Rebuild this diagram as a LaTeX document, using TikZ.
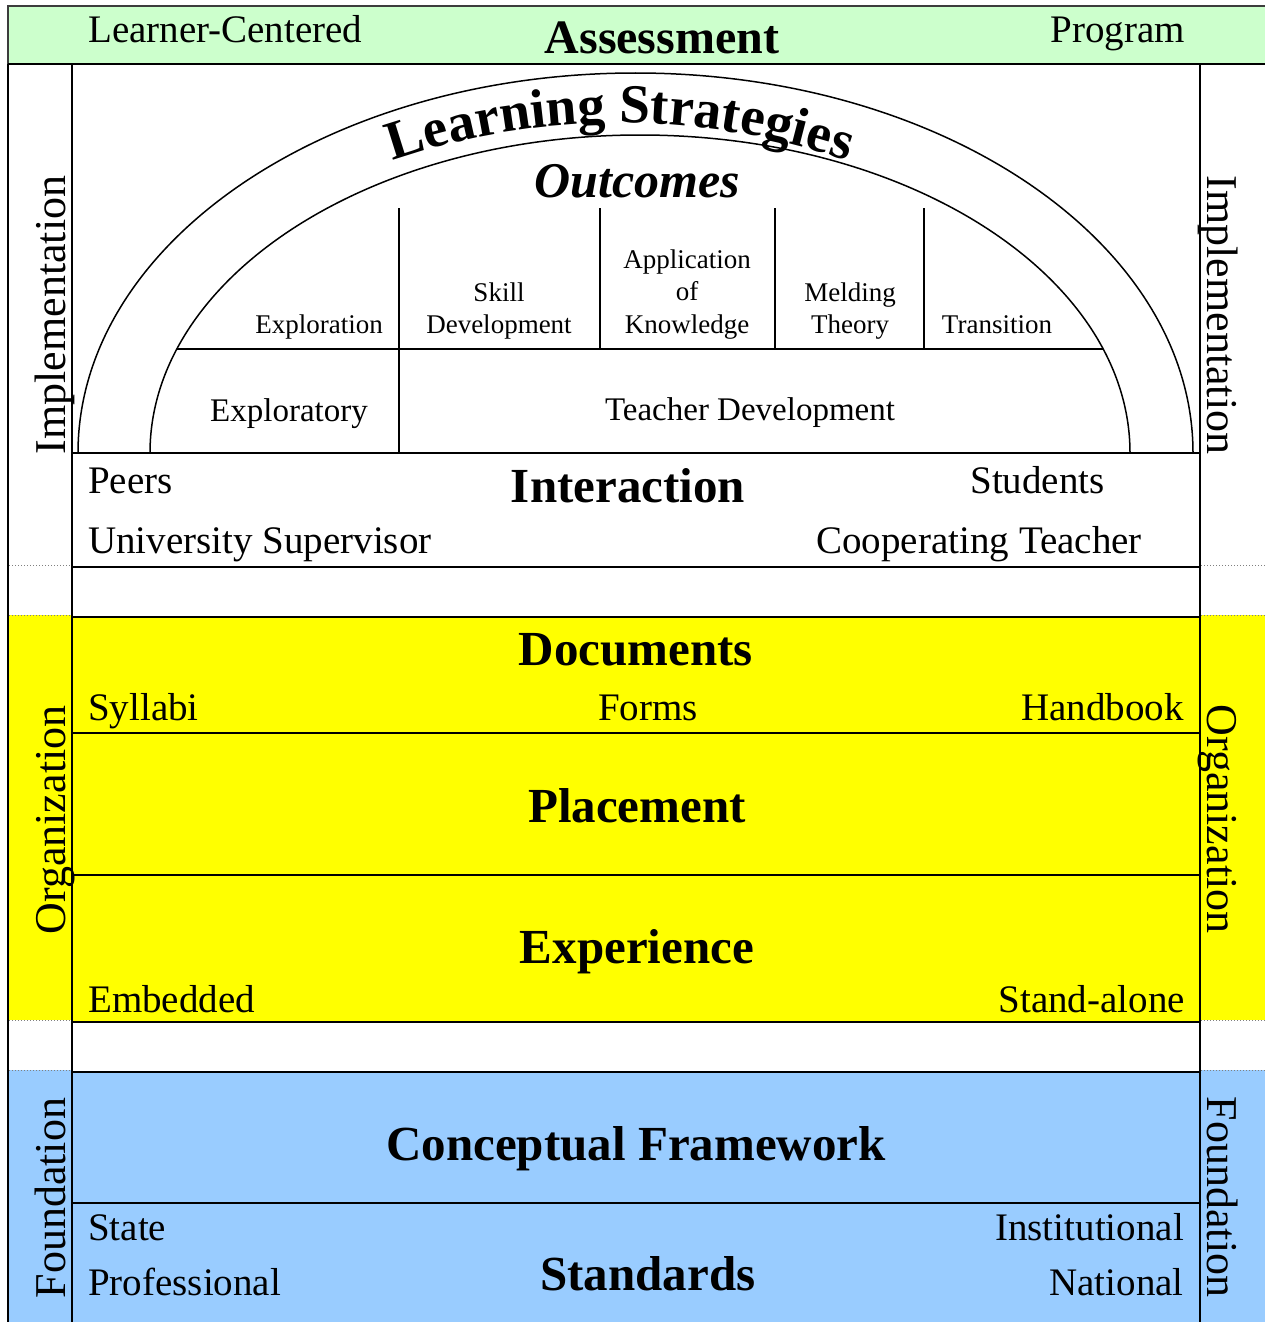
\documentclass[tikz,border=0pt]{standalone}
\usepackage{fontspec}
\setmainfont{Liberation Serif}
\usetikzlibrary{decorations.text}
\newcommand\fsz[1]{\fontsize{#1}{#1}\selectfont}
\newcommand\LSfont{\fontsize{55}{55}\selectfont\bfseries}
\definecolor{greenbg}{RGB}{204,255,204}
\definecolor{yellowbg}{RGB}{255,255,0}
\definecolor{bluebg}{RGB}{153,204,255}
\definecolor{bandline}{RGB}{60,60,60}
\begin{document}
\begin{tikzpicture}[x=1pt,y=1pt,
  lbl/.style={inner sep=0pt, font=\fsz{39}},
  head/.style={inner sep=0pt, font=\fsz{49}\bfseries},
  small/.style={inner sep=0pt, font=\fsz{27}},
  mid/.style={inner sep=0pt, font=\fsz{33}},
  side/.style={inner sep=0pt, font=\fsz{44}},
  frame/.style={line width=2.5pt, black},
  hline/.style={line width=2.8pt, black},
  thinl/.style={line width=1.5pt, black},
  medl/.style={line width=2.3pt, black},
  dotl/.style={gray, dotted, line width=1pt},
]
\useasboundingbox (0,0) rectangle (1265,-1322);
\fill[white] (0,0) rectangle (1265,-1322);
% fills
\fill[greenbg] (8,-6) rectangle (1270,-64);
\fill[yellowbg] (8,-615) rectangle (72,-1020);
\fill[yellowbg] (1200,-615) rectangle (1270,-1020);
\fill[yellowbg] (72,-617) rectangle (1200,-1022);
\fill[bluebg] (8,-1070) rectangle (72,-1325);
\fill[bluebg] (1200,-1070) rectangle (1270,-1325);
\fill[bluebg] (72,-1072) rectangle (1200,-1325);
% top band border
\draw[line width=2pt, bandline] (1270,-6) -- (8,-6) -- (8,-64);
\draw[frame] (8,-64) -- (1270,-64);
% frame verticals
\draw[frame] (8,-64) -- (8,-1325);
\draw[frame] (72,-64) -- (72,-1325);
\draw[frame] (1200,-64) -- (1200,-1325);
% centre horizontals
\draw[hline] (72,-453) -- (1200,-453);
\draw[hline] (72,-567) -- (1200,-567);
\foreach \yy in {617,733,875,1022,1072,1203}
  \draw[frame] (72,-\yy) -- (1200,-\yy);
% side dotted separators
\foreach \yy in {565,615,1020,1070} {
  \draw[dotl] (9,-\yy) -- (71,-\yy);
  \draw[dotl] (1201,-\yy) -- (1265,-\yy);
}
% arch
\draw[thinl] (78,-453) arc[start angle=180, end angle=0, x radius=557.5, y radius=380];
\draw[thinl] (150,-453) arc[start angle=180, end angle=0, x radius=490, y radius=318];
\coordinate (hl) at (177,-349);
\coordinate (hr) at (1103,-349);
\draw[thinl] (hl) -- (hr);
\draw[thinl] (399,-208) -- (399,-453);
\draw[medl] (600,-208) -- (600,-349);
\draw[medl] (775,-208) -- (775,-349);
\draw[thinl] (924,-208) -- (924,-349);
% Learning Strategies along the arch
\path[decorate, decoration={text along path, text={|\LSfont|Learning Strategies}, text align=center}]
  (170,-286.8) arc[start angle=130, end angle=50, radius=700];
% top band texts
\node[lbl, anchor=base west] (lc) at (88,-43) {Learner-Centered};
\node[head, font=\fsz{48}\bfseries, anchor=base] (as) at (662,-53) {Assessment};
\node[lbl, anchor=base east] (pg) at (1185,-43) {Program};
% outcomes
\node[inner sep=0pt, font=\fsz{50}\bfseries\itshape, anchor=base] (oc) at (637,-197) {Outcomes};
\node[small, anchor=base east] (expl) at (383,-333) {Exploration};
\node[small, anchor=base] (sk1) at (499,-301) {Skill};
\node[small, anchor=base] (sk2) at (499,-333) {Development};
\node[small, anchor=base] (ap1) at (687,-268) {Application};
\node[small, anchor=base] (ap2) at (687,-300) {of};
\node[small, anchor=base] (ap3) at (687,-333) {Knowledge};
\node[small, anchor=base] (md1) at (850,-301) {Melding};
\node[small, anchor=base] (md2) at (850,-333) {Theory};
\node[small, anchor=base] (tr) at (997,-333) {Transition};
\node[mid, anchor=base] (ex) at (289,-421) {Exploratory};
\node[mid, anchor=base] (td) at (750,-420) {Teacher Development};
% interaction
\node[lbl, anchor=base west] (peers) at (88,-493) {Peers};
\node[lbl, anchor=base west] (us) at (88,-553) {University Supervisor};
\node[lbl, anchor=base east] (stu) at (1105,-493) {Students};
\node[lbl, anchor=base east] (ct) at (1142,-553) {Cooperating Teacher};
\node[head, anchor=base] (inter) at (628,-502) {Interaction};
% documents
\node[head, anchor=base] (doc) at (636,-665) {Documents};
\node[lbl, anchor=base west] (syl) at (88,-720) {Syllabi};
\node[lbl, anchor=base] (forms) at (648,-720) {Forms};
\node[lbl, anchor=base east] (hb) at (1184,-720) {Handbook};
% placement / experience
\node[head, anchor=base] (plc) at (637,-822) {Placement};
\node[head, anchor=base] (exp) at (637,-963) {Experience};
\node[lbl, anchor=base west] (emb) at (88,-1012) {Embedded};
\node[lbl, anchor=base east] (sa) at (1185,-1012) {Stand-alone};
% foundation
\node[head, anchor=base] (cf) at (636,-1160) {Conceptual Framework};
\node[head, anchor=base] (std) at (648,-1290) {Standards};
\node[lbl, anchor=base west] (state) at (88,-1240) {State};
\node[lbl, anchor=base west] (prof) at (88,-1295) {Professional};
\node[lbl, anchor=base east] (inst) at (1184,-1240) {Institutional};
\node[lbl, anchor=base east] (nat) at (1184,-1295) {National};
% side labels
\node[side, rotate=90, anchor=base] (impL) at (65,-315) {Implementation};
\node[side, rotate=90, anchor=base] (orgL) at (65,-820) {Organization};
\node[side, rotate=90, anchor=base] (fndL) at (65,-1198) {Foundation};
\node[side, rotate=-90, anchor=base] (impR) at (1207,-315) {Implementation};
\node[side, rotate=-90, anchor=base] (orgR) at (1207,-819) {Organization};
\node[side, rotate=-90, anchor=base] (fndR) at (1207,-1197) {Foundation};
\end{tikzpicture}
\end{document}
